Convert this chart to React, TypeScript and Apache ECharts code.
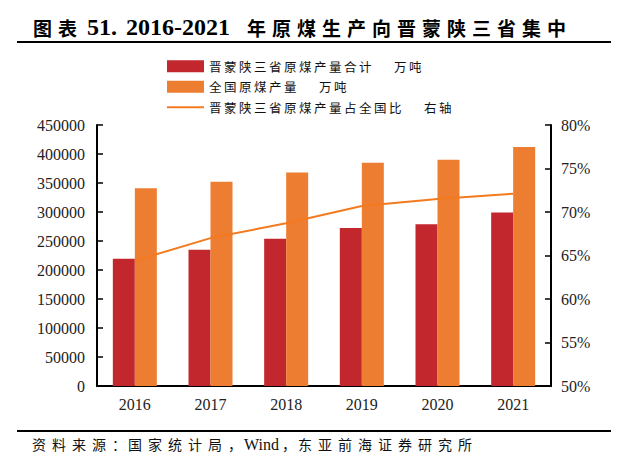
import React, { useEffect, useRef } from "react";
import * as echarts from "echarts";

const categories = ["2016", "2017", "2018", "2019", "2020", "2021"];
const regionOutput = [219500, 235000, 254000, 272500, 279000, 299000];
const nationalOutput = [341000, 352000, 368000, 385000, 390000, 412000];
const regionShare = [64.4, 67.0, 68.7, 70.7, 71.5, 72.1];

const seriesNames = [
  "晋蒙陕三省原煤产量合计  万吨",
  "全国原煤产量  万吨",
  "晋蒙陕三省原煤产量占全国比  右轴",
];

const titleLead = "图表";
const titleNum = "51.";
const titleYears = "2016-2021";
const titleRest = "年原煤生产向晋蒙陕三省集中";
const sourceLead = "资料来源：国家统计局，";
const sourceWind = "Wind";
const sourceTail = "，东亚前海证券研究所";

const CJK = "'Noto Sans CJK SC', 'Noto Sans', sans-serif";
const SERIF = "'Liberation Serif', 'DejaVu Serif', serif";
const PUNCT = "：，";

const chars = (s: string, key: string, pKey?: string) =>
  Array.from(s)
    .map((ch) => `{${pKey && PUNCT.includes(ch) ? pKey : key}|${ch}}`)
    .join("");

const legendRich = (name: string) =>
  name
    .split("  ")
    .map((p) => chars(p, "c"))
    .join("{g| }");

export default function App() {
  const ref = useRef<HTMLDivElement>(null);

  useEffect(() => {
    if (!ref.current) return;
    const chart = echarts.init(ref.current, undefined, { renderer: "svg" });

    const titleText =
      chars(titleLead, "c") +
      "{g0| }" +
      `{n|${titleNum}}` +
      "{g1| }" +
      `{n|${titleYears}}` +
      "{g2| }" +
      chars(titleRest, "c");

    const srcText =
      chars(sourceLead, "c", "p") + `{w|${sourceWind}}` + chars(sourceTail, "c", "p");

    const axisLabelStyle = {
      fontFamily: SERIF,
      fontSize: 16,
      color: "#222",
    };

    chart.setOption({
      animation: false,
      backgroundColor: "#fff",
      grid: { left: 97, right: 90, top: 125, bottom: 78, containLabel: false },
      legend: {
        orient: "vertical",
        left: 167,
        top: 60,
        padding: 0,
        itemWidth: 37,
        itemHeight: 12,
        itemGap: 8,
        data: [
          { name: seriesNames[0], icon: "rect" },
          { name: seriesNames[1], icon: "rect" },
          { name: seriesNames[2], icon: "path://M0,0 L37,0 L37,2 L0,2 Z" },
        ],
        formatter: (name: string) => legendRich(name),
        textStyle: {
          color: "#111",
          rich: {
            c: { fontFamily: CJK, fontSize: 12.5, width: 15, lineHeight: 12, color: "#111" },
            g: { fontFamily: CJK, fontSize: 12.5, width: 20, lineHeight: 12 },
          },
        },
      },
      xAxis: {
        type: "category",
        data: categories,
        axisLine: { lineStyle: { color: "#000", width: 2 } },
        axisTick: { show: false },
        axisLabel: { ...axisLabelStyle, margin: 10 },
      },
      yAxis: [
        {
          type: "value",
          position: "left",
          min: 0,
          max: 450000,
          interval: 50000,
          axisLine: { show: true, lineStyle: { color: "#000", width: 2 } },
          axisTick: { show: true, inside: true, length: 6, lineStyle: { color: "#000", width: 1.5 } },
          splitLine: { show: false },
          axisLabel: { ...axisLabelStyle, margin: 12, formatter: (v: number) => String(v) },
        },
        {
          type: "value",
          position: "right",
          min: 50,
          max: 80,
          interval: 5,
          axisLine: { show: true, lineStyle: { color: "#000", width: 2 } },
          axisTick: { show: true, inside: true, length: 6, lineStyle: { color: "#000", width: 1.5 } },
          splitLine: { show: false },
          axisLabel: { ...axisLabelStyle, margin: 10, formatter: "{value}%" },
        },
      ],
      series: [
        {
          name: seriesNames[0],
          type: "bar",
          data: regionOutput,
          barWidth: 22,
          barGap: "0%",
          itemStyle: { color: "#C1272D" },
        },
        {
          name: seriesNames[1],
          type: "bar",
          data: nationalOutput,
          barWidth: 22,
          barGap: "0%",
          itemStyle: { color: "#ED7D31" },
        },
        {
          name: seriesNames[2],
          type: "line",
          yAxisIndex: 1,
          data: regionShare,
          symbol: "none",
          lineStyle: { color: "#F47A20", width: 2 },
          itemStyle: { color: "#F47A20" },
        },
      ],
      graphic: [
        {
          type: "text",
          x: 33,
          y: 27,
          style: {
            text: titleText,
            align: "left",
            verticalAlign: "middle",
            textAlign: "left",
            textVerticalAlign: "middle",
            fill: "#000",
            rich: {
              c: { fontFamily: CJK, fontWeight: "bold", fontSize: 19, width: 25, lineHeight: 26, fill: "#000", color: "#000" },
              n: { fontFamily: SERIF, fontWeight: "bold", fontSize: 24, lineHeight: 26, fill: "#000", color: "#000" },
              g0: { fontSize: 19, width: 4, lineHeight: 26 },
              g1: { fontSize: 19, width: 9, lineHeight: 26 },
              g2: { fontSize: 19, width: 17, lineHeight: 26 },
            },
          },
        },
        {
          type: "line",
          shape: { x1: 17, y1: 42, x2: 611, y2: 42 },
          style: { stroke: "#000", lineWidth: 2 },
        },
        {
          type: "line",
          shape: { x1: 17, y1: 431, x2: 611, y2: 431 },
          style: { stroke: "#000", lineWidth: 2 },
        },
        {
          type: "text",
          x: 32,
          y: 444,
          style: {
            text: srcText,
            align: "left",
            verticalAlign: "middle",
            textAlign: "left",
            textVerticalAlign: "middle",
            fill: "#111",
            rich: {
              c: { fontFamily: CJK, fontSize: 14, width: 20, lineHeight: 18, fill: "#111", color: "#111" },
              p: { fontFamily: CJK, fontSize: 14, width: 16, lineHeight: 18, fill: "#111", color: "#111" },
              w: { fontFamily: SERIF, fontSize: 16, width: 38, lineHeight: 18, fill: "#111", color: "#111" },
            },
          },
        },
      ],
    });

    return () => chart.dispose();
  }, []);

  return (
    <div
      ref={ref}
      style={{ position: "fixed", left: 0, top: 0, width: 641, height: 464 }}
    />
  );
}
